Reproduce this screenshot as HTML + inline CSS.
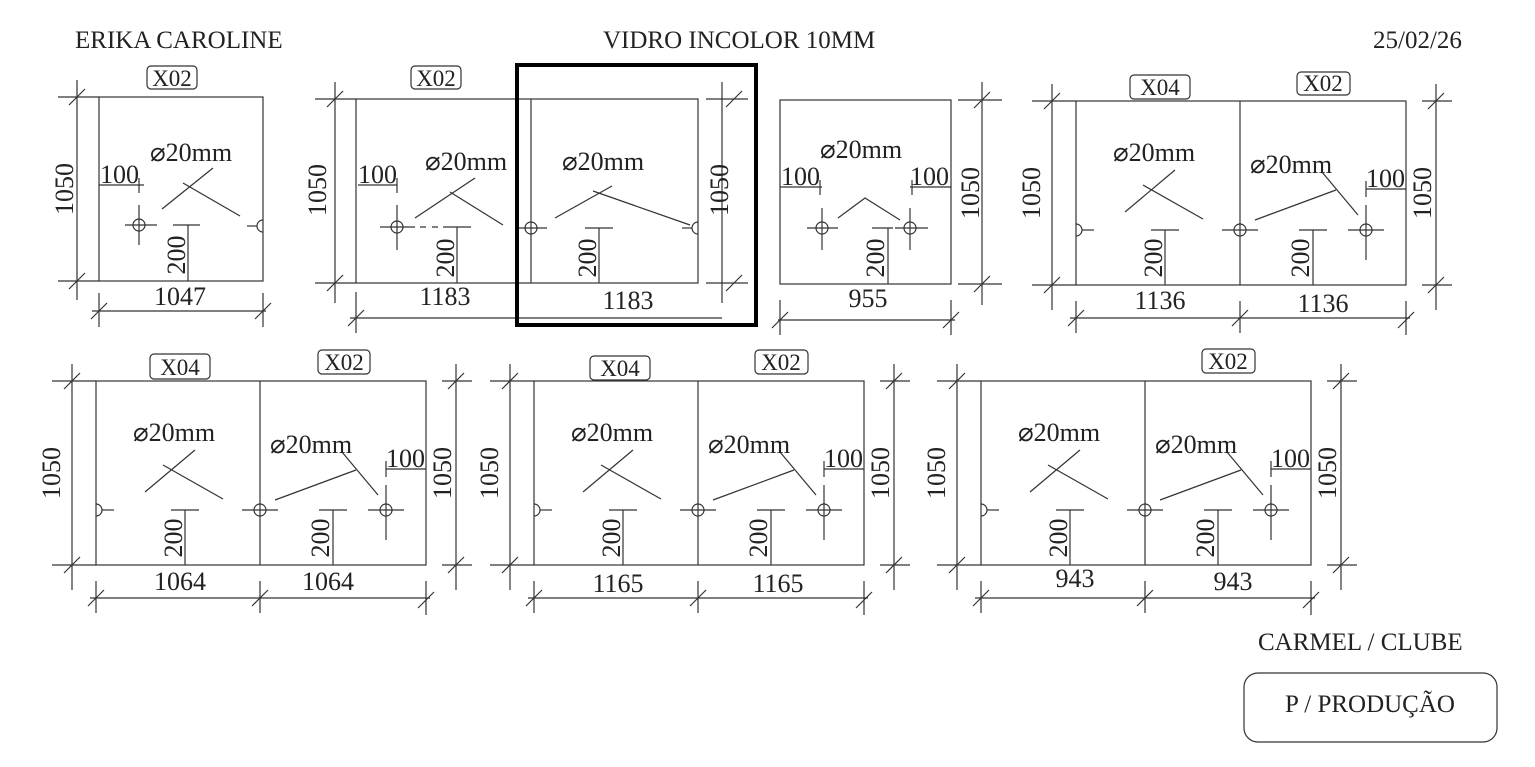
<!DOCTYPE html>
<html><head><meta charset="utf-8"><style>
html,body{margin:0;padding:0;background:#fff;}
svg{display:block;}
text{font-family:"Liberation Serif",serif;fill:#222;}
</style></head><body>
<svg width="1535" height="767" viewBox="0 0 1535 767" xmlns="http://www.w3.org/2000/svg">
<defs>
<g id="tpl" fill="none" stroke="#333" stroke-width="1.2">
  <rect x="0" y="0" width="330" height="184"/>
  <line x1="164" y1="0" x2="164" y2="184"/>
  <line x1="-24" y1="-17" x2="-24" y2="209"/>
  <line x1="-44" y1="0" x2="0" y2="0"/><line x1="-44" y1="184" x2="0" y2="184"/>
  <path d="M-32,8L-16,-8M-32,192L-16,176"/>
  <line x1="360" y1="-17" x2="360" y2="209"/>
  <line x1="346" y1="0" x2="376" y2="0"/><line x1="346" y1="184" x2="376" y2="184"/>
  <path d="M352,8L368,-8M352,192L368,176"/>
  <line x1="-6" y1="217" x2="334" y2="217"/>
  <line x1="0" y1="200" x2="0" y2="232"/><line x1="164" y1="200" x2="164" y2="232"/><line x1="330" y1="200" x2="330" y2="234"/>
  <path d="M-8,225L8,209M156,225L172,209M322,227L338,211"/>
  <path d="M0,123A6,6 0 0 1 0,135"/><line x1="6" y1="129" x2="18" y2="129"/>
  <circle cx="164" cy="129" r="6"/><line x1="146" y1="129" x2="182" y2="129"/>
  <circle cx="290" cy="129" r="6"/><line x1="272" y1="129" x2="308" y2="129"/><line x1="290" y1="104" x2="290" y2="159"/>
  <line x1="89" y1="129" x2="89" y2="184"/><line x1="75" y1="129" x2="103" y2="129"/>
  <line x1="237" y1="129" x2="237" y2="184"/><line x1="223" y1="129" x2="251" y2="129"/>
  <line x1="290" y1="88" x2="330" y2="88"/><line x1="290" y1="80" x2="290" y2="96"/>
  <line x1="49" y1="111" x2="99" y2="69"/><line x1="67" y1="84" x2="127" y2="118"/>
  <line x1="179" y1="119" x2="260" y2="89"/><line x1="246" y1="71" x2="282" y2="114"/>
</g>
<g id="tt" font-size="26">
  <text transform="translate(-36,92) rotate(-90)" text-anchor="middle" y="0">1050</text>
  <text transform="translate(355,92) rotate(-90)" text-anchor="middle" y="0">1050</text>
  <text transform="translate(86,157) rotate(-90)" text-anchor="middle" y="0">200</text>
  <text transform="translate(233,157) rotate(-90)" text-anchor="middle" y="0">200</text>
  <text x="329" y="86" text-anchor="end">100</text>
  <text x="37" y="60">⌀20mm</text>
  <text x="174" y="72">⌀20mm</text>
</g>
</defs>

<text x="75" y="48" font-size="25">ERIKA CAROLINE</text>
<text x="603" y="48" font-size="25">VIDRO INCOLOR 10MM</text>
<text x="1373" y="48" font-size="25">25/02/26</text>

<g fill="none" stroke="#333" stroke-width="1.2">
  <rect x="99" y="97" width="164" height="184"/>
  <line x1="77" y1="80" x2="77" y2="300"/>
  <line x1="58" y1="97" x2="99" y2="97"/><line x1="58" y1="281" x2="99" y2="281"/>
  <path d="M69,105L85,89M69,289L85,273"/>
  <line x1="92" y1="311" x2="266" y2="311"/>
  <line x1="99" y1="293" x2="99" y2="327"/><line x1="263" y1="293" x2="263" y2="327"/>
  <path d="M91,319L107,303M255,319L271,303"/>
  <rect x="147" y="66" width="50" height="23" rx="4"/>
  <circle cx="139" cy="225" r="6"/><line x1="125" y1="225" x2="157" y2="225"/><line x1="139" y1="205" x2="139" y2="245"/>
  <path d="M263,220A6,6 0 0 0 263,232"/><line x1="247" y1="226" x2="257" y2="226"/>
  <line x1="188" y1="225" x2="188" y2="281"/><line x1="173" y1="225" x2="200" y2="225"/>
  <line x1="99" y1="185" x2="144" y2="185"/><line x1="139" y1="178" x2="139" y2="193"/>
  <line x1="162" y1="209" x2="213" y2="168"/><line x1="183" y1="183" x2="240" y2="216"/>
</g>
<g font-size="26">
  <text x="172" y="86" font-size="23" text-anchor="middle">X02</text>
  <text transform="translate(73,189) rotate(-90)" text-anchor="middle">1050</text>
  <text x="180" y="305" text-anchor="middle">1047</text>
  <text transform="translate(188,255) rotate(-90)" text-anchor="middle" x="0" y="-3">200</text>
  <text x="100" y="183">100</text>
  <text x="150" y="161">⌀20mm</text>
</g>

<g fill="none" stroke="#333" stroke-width="1.2">
  <rect x="356" y="99" width="342" height="184"/>
  <line x1="531" y1="99" x2="531" y2="283"/>
  <line x1="335" y1="82" x2="335" y2="303"/>
  <line x1="315" y1="99" x2="356" y2="99"/><line x1="315" y1="283" x2="356" y2="283"/>
  <path d="M327,107L343,91M327,291L343,275"/>
  <line x1="722" y1="82" x2="722" y2="303"/>
  <line x1="706" y1="99" x2="748" y2="99"/><line x1="706" y1="283" x2="748" y2="283"/>
  <path d="M726,107L742,91M726,291L742,275"/>
  <line x1="350" y1="318" x2="722" y2="318"/>
  <line x1="356" y1="292" x2="356" y2="333"/>
  <path d="M348,326L364,310"/>
  <rect x="411" y="66" width="50" height="23" rx="4"/>
  <circle cx="397" cy="227" r="6"/><line x1="380" y1="227" x2="415" y2="227"/><line x1="397" y1="205" x2="397" y2="250"/>
  <line x1="420" y1="227" x2="440" y2="227" stroke-dasharray="6,6"/>
  <circle cx="531" cy="228" r="6"/><line x1="515" y1="228" x2="547" y2="228"/>
  <path d="M698,222A6,6 0 0 0 698,234"/><line x1="682" y1="228" x2="692" y2="228"/>
  <line x1="457" y1="227" x2="457" y2="283"/><line x1="443" y1="227" x2="471" y2="227"/>
  <line x1="599" y1="228" x2="599" y2="283"/><line x1="585" y1="228" x2="613" y2="228"/>
  <line x1="358" y1="185" x2="397" y2="185"/><line x1="397" y1="178" x2="397" y2="193"/>
  <line x1="415" y1="218" x2="475" y2="178"/><line x1="450" y1="192" x2="503" y2="225"/>
  <line x1="555" y1="218" x2="612" y2="186"/><line x1="593" y1="191" x2="690" y2="225"/>
  <rect x="517" y="65" width="239" height="260" stroke="#000" stroke-width="4"/>
</g>
<g font-size="26">
  <text x="436" y="86" font-size="23" text-anchor="middle">X02</text>
  <text transform="translate(326,190) rotate(-90)" text-anchor="middle">1050</text>
  <text transform="translate(728,190) rotate(-90)" text-anchor="middle">1050</text>
  <text x="445" y="305" text-anchor="middle">1183</text>
  <text x="628" y="309" text-anchor="middle">1183</text>
  <text transform="translate(457,258) rotate(-90)" text-anchor="middle" y="-3">200</text>
  <text transform="translate(599,258) rotate(-90)" text-anchor="middle" y="-3">200</text>
  <text x="358" y="183">100</text>
  <text x="425" y="170">⌀20mm</text>
  <text x="562" y="170">⌀20mm</text>
</g>

<g fill="none" stroke="#333" stroke-width="1.2">
  <rect x="780" y="100" width="171" height="184"/>
  <line x1="982" y1="82" x2="982" y2="305"/>
  <line x1="958" y1="100" x2="1002" y2="100"/><line x1="958" y1="284" x2="1002" y2="284"/>
  <path d="M974,108L990,92M974,292L990,276"/>
  <line x1="778" y1="320" x2="955" y2="320"/>
  <line x1="780" y1="300" x2="780" y2="335"/><line x1="951" y1="300" x2="951" y2="335"/>
  <path d="M772,328L788,312M943,328L959,312"/>
  <circle cx="822" cy="228" r="6"/><line x1="807" y1="228" x2="838" y2="228"/><line x1="822" y1="208" x2="822" y2="250"/>
  <circle cx="910" cy="228" r="6"/><line x1="895" y1="228" x2="928" y2="228"/><line x1="910" y1="208" x2="910" y2="250"/>
  <line x1="888" y1="228" x2="888" y2="284"/><line x1="872" y1="228" x2="893" y2="228"/>
  <line x1="780" y1="187" x2="822" y2="187"/><line x1="820" y1="180" x2="820" y2="195"/>
  <line x1="910" y1="187" x2="951" y2="187"/><line x1="912" y1="180" x2="912" y2="195"/>
  <path d="M838,218L865,198L900,220"/>
</g>
<g font-size="26">
  <text transform="translate(979,193) rotate(-90)" text-anchor="middle">1050</text>
  <text x="868" y="307" text-anchor="middle">955</text>
  <text transform="translate(887,258) rotate(-90)" text-anchor="middle" y="-3">200</text>
  <text x="781" y="185">100</text>
  <text x="949" y="185" text-anchor="end">100</text>
  <text x="820" y="158">⌀20mm</text>
</g>

<g transform="translate(1076,101)">
  <use href="#tpl"/><use href="#tt"/>
  <g fill="none" stroke="#333" stroke-width="1.2">
    <rect x="54" y="-26" width="60" height="24" rx="4"/>
    <rect x="221" y="-29" width="53" height="23" rx="4"/>
  </g>
  <text x="84" y="-6" font-size="23" text-anchor="middle">X04</text>
  <text x="247" y="-10" font-size="23" text-anchor="middle">X02</text>
  <text x="84" y="208" font-size="26" text-anchor="middle">1136</text>
  <text x="247" y="211" font-size="26" text-anchor="middle">1136</text>
</g>

<g transform="translate(96,381)">
  <use href="#tpl"/><use href="#tt"/>
  <g fill="none" stroke="#333" stroke-width="1.2">
    <rect x="54" y="-27" width="60" height="25" rx="4"/>
    <rect x="222" y="-31" width="52" height="24" rx="4"/>
  </g>
  <text x="84" y="-6" font-size="23" text-anchor="middle">X04</text>
  <text x="248" y="-11" font-size="23" text-anchor="middle">X02</text>
  <text x="84" y="209" font-size="26" text-anchor="middle">1064</text>
  <text x="232" y="209" font-size="26" text-anchor="middle">1064</text>
</g>

<g transform="translate(534,381)">
  <use href="#tpl"/><use href="#tt"/>
  <g fill="none" stroke="#333" stroke-width="1.2">
    <rect x="56" y="-25" width="60" height="24" rx="4"/>
    <rect x="221" y="-31" width="53" height="24" rx="4"/>
  </g>
  <text x="86" y="-5" font-size="23" text-anchor="middle">X04</text>
  <text x="247" y="-11" font-size="23" text-anchor="middle">X02</text>
  <text x="84" y="211" font-size="26" text-anchor="middle">1165</text>
  <text x="244" y="211" font-size="26" text-anchor="middle">1165</text>
</g>

<g transform="translate(981,381)">
  <use href="#tpl"/><use href="#tt"/>
  <g fill="none" stroke="#333" stroke-width="1.2">
    <rect x="221" y="-32" width="53" height="24" rx="4"/>
  </g>
  <text x="247" y="-12" font-size="23" text-anchor="middle">X02</text>
  <text x="94" y="206" font-size="26" text-anchor="middle">943</text>
  <text x="252" y="209" font-size="26" text-anchor="middle">943</text>
</g>

<text x="1258" y="650" font-size="25">CARMEL / CLUBE</text>
<rect x="1244" y="673" width="253" height="69" rx="14" fill="none" stroke="#333" stroke-width="1.2"/>
<text x="1370" y="712" font-size="25" text-anchor="middle">P / PRODUÇÃO</text>
</svg>
</body></html>
